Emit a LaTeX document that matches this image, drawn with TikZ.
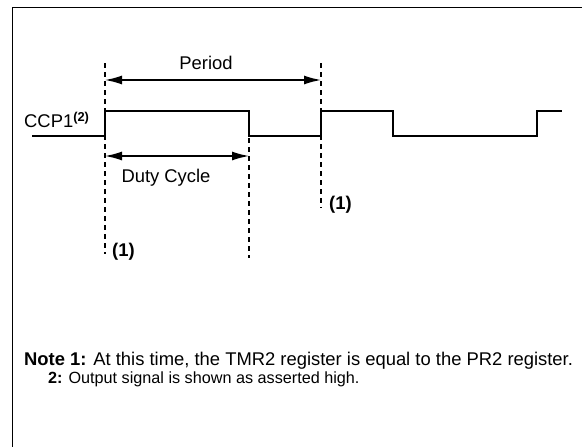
\documentclass[tikz,border=0pt]{standalone}
\usepackage{fontspec}
\setmainfont{Liberation Sans}
\usetikzlibrary{arrows.meta}

\begin{document}
\begin{tikzpicture}
	[
		x=1pt, y=-1pt,
		frame/.style = {line width=1.8pt},
		wave/.style = {line width=1.8pt},
		marker/.style = {line width=1.3pt, dash pattern=on 4.5pt off 4.5pt},
		span/.style = {line width=1.5pt, {Latex[length=17pt,width=9pt]}-{Latex[length=17pt,width=9pt]}},
		lbl/.style = {inner sep=0pt, font=\fontsize{18.4}{20}\selectfont},
		note/.style = {lbl, anchor=base west}
	]
	
	\useasboundingbox (0,0) rectangle (582,447);
	
	\def\hi{111}
	\def\lo{136}
	\def\ta{105}
	\def\tb{249}
	\def\tc{321}
	
	\draw [frame] (12.5,447) -- (12.5,7.5) -- (582,7.5);
	
	% time markers
	\coordinate (ma top) at (\ta,63);
	\coordinate (ma bot) at (\ta,254);
	\coordinate (mb top) at (\tb,138);
	\coordinate (mb bot) at (\tb,258);
	\coordinate (mc top) at (\tc,63);
	\coordinate (mc bot) at (\tc,208);
	
	\draw [marker] (ma top) -- (ma bot);
	\draw [marker] (mb top) -- (mb bot);
	\draw [marker] (mc top) -- (mc bot);
	
	% signal
	\node [lbl, anchor=base west] (ccp) at (24,127.5) {CCP1\textsuperscript{\bfseries(2)}};
	\draw [wave] (32,\lo) -- (\ta,\lo) -- (\ta,\hi) -- (\tb,\hi) -- (\tb,\lo) -- (\tc,\lo) -- (\tc,\hi)
		-- (393,\hi) -- (393,\lo) -- (537,\lo) -- (537,\hi) -- (562,\hi);
	
	% spans
	\coordinate (pa) at (\ta,80);
	\coordinate (pc) at (\tc,80);
	\coordinate (da) at (\ta,156);
	\coordinate (db) at (\tb,156);
	
	\draw [span] (pa) -- (pc);
	\draw [span] (da) -- (db);
	
	\node [lbl, anchor=base] (period) at (206,70) {Period};
	\node [lbl, anchor=base] (duty) at (166,182) {Duty Cycle};
	
	\node [lbl, anchor=base west, font=\fontsize{18.4}{20}\selectfont\bfseries] (mark a) at (112,256) {(1)};
	\node [lbl, anchor=base west, font=\fontsize{18.4}{20}\selectfont\bfseries] (mark c) at (329,209) {(1)};
	
	% notes
	\node [note] (note a) at (24,365) {\textbf{Note 1:} At this time, the TMR2 register is equal to the PR2 register.};
	\node [note, font=\fontsize{16.2}{18}\selectfont] (note b) at (48,383) {\textbf{2:} Output signal is shown as asserted high.};
	
\end{tikzpicture}
\end{document}
